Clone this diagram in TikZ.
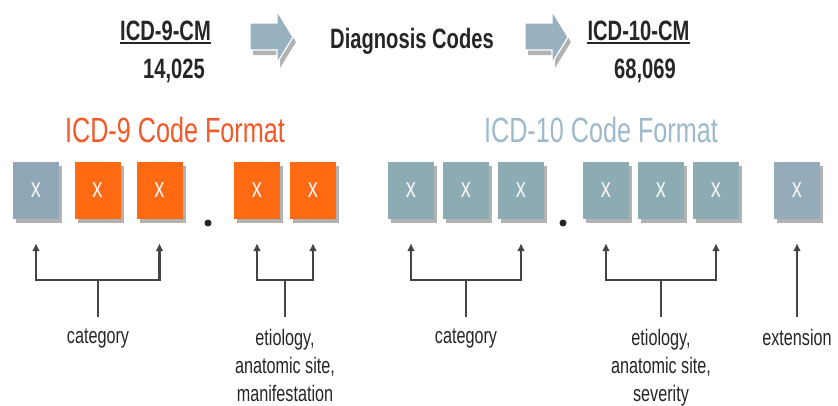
\documentclass[tikz,border=0pt]{standalone}
\usepackage{fontspec}
\setmainfont{Liberation Sans}[FakeStretch=0.72]
\usetikzlibrary{arrows.meta,shadows}

\definecolor{icdorange}{HTML}{FF6A13}
\definecolor{oldgray}{HTML}{8FA7B7}
\definecolor{newgray}{HTML}{8CABB2}
\definecolor{extgray}{HTML}{94ABBA}
\definecolor{titleorange}{HTML}{F05A28}
\definecolor{titleblue}{HTML}{9DB9CB}
\definecolor{arrowblue}{HTML}{97B1C1}
\definecolor{textgray}{HTML}{262626}
\definecolor{linegray}{HTML}{444444}

% block arrow between the header texts
\newcommand\bigarrow[1]{%
  \fill[gray!60, shift={(#1+3,5)}] (0,23) -- (27,23) -- (27,11) -- (43,37) -- (27,63) -- (27,50) -- (0,50) -- cycle;
  \filldraw[fill=arrowblue, draw=white, line width=1.2pt, shift={(#1,0)}] (0,23) -- (27,23) -- (27,11) -- (43,37) -- (27,63) -- (27,50) -- (0,50) -- cycle;
}

\begin{document}
\begin{tikzpicture}[x=1pt, y=-1pt, >={Latex[length=8pt,width=8pt]},
  head/.style={font=\bfseries\fontsize{28}{34}\selectfont, text=textgray, inner sep=0pt, anchor=base},
  title/.style={font=\fontsize{35}{42}\selectfont, inner sep=0pt, anchor=base},
  box/.style={minimum width=46pt, minimum height=57pt, inner sep=0pt,
    text=white!92!gray, font=\fontsize{28}{32}\selectfont,
    general shadow={fill=gray!60, shadow xshift=3pt, shadow yshift=-4pt}},
  lbl/.style={font=\fontsize{22.5}{28}\selectfont, text=textgray, align=center, inner sep=0pt, anchor=north},
  brk/.style={->, line width=2.6pt, draw=linegray, shorten >=24pt}]

\useasboundingbox (0,0) rectangle (838,405);

% header row
\node[head] (t9) at (165.5,40) {ICD-9-CM};
\node[head] (n9) at (174,78) {14,025};
\node[head] (dx) at (412,48) {Diagnosis Codes};
\node[head] (t10) at (638.5,40) {ICD-10-CM};
\node[head] (n10) at (645,78) {68,069};
\draw[textgray, line width=1.8pt] ([yshift=-3pt]t9.base west) -- ([yshift=-3pt]t9.base east);
\draw[textgray, line width=1.8pt] ([yshift=-3pt]t10.base west) -- ([yshift=-3pt]t10.base east);
\bigarrow{250}
\bigarrow{525}

% format titles
\node[title, text=titleorange] (f9) at (175,142) {ICD-9 Code Format};
\node[title, text=titleblue] (f10) at (601,142) {ICD-10 Code Format};

% the code boxes
\foreach \name/\x/\col in {c9a/36/oldgray, c9b/97.5/icdorange, c9c/159.5/icdorange,
    c9d/257/icdorange, c9e/313/icdorange, c10a/411/newgray, c10b/466/newgray,
    c10c/521/newgray, c10d/606/newgray, c10e/661/newgray, c10f/716/newgray, c10g/797/extgray}
  \node[box, fill=\col] (\name) at (\x,190.5) {x};
\fill[textgray] (208,223) circle (3.5pt);
\fill[textgray] (563,223) circle (3.5pt);

% labels
\node[lbl] (l9cat) at (98,329) {category};
\node[lbl] (l9etio) at (285,329) {etiology,\\anatomic site,\\manifestation};
\node[lbl] (l10cat) at (466,329) {category};
\node[lbl] (l10etio) at (661,329) {etiology,\\anatomic site,\\severity};
\node[lbl] (l10ext) at (797,329) {extension};

% brackets
\draw[brk] ([yshift=12pt]l9cat.north) -- ++(0,-37) -| (c9a.south);
\draw[brk] ([yshift=12pt]l9cat.north) ++(0,-37) -| (c9c.south);
\draw[brk] ([yshift=12pt]l9etio.north) -- ++(0,-37) -| (c9d.south);
\draw[brk] ([yshift=12pt]l9etio.north) ++(0,-37) -| (c9e.south);
\draw[brk] ([yshift=12pt]l10cat.north) -- ++(0,-37) -| (c10a.south);
\draw[brk] ([yshift=12pt]l10cat.north) ++(0,-37) -| (c10c.south);
\draw[brk] ([yshift=12pt]l10etio.north) -- ++(0,-37) -| (c10d.south);
\draw[brk] ([yshift=12pt]l10etio.north) ++(0,-37) -| (c10f.south);
\draw[brk] ([yshift=12pt]l10ext.north) -- (c10g.south);
\end{tikzpicture}
\end{document}
